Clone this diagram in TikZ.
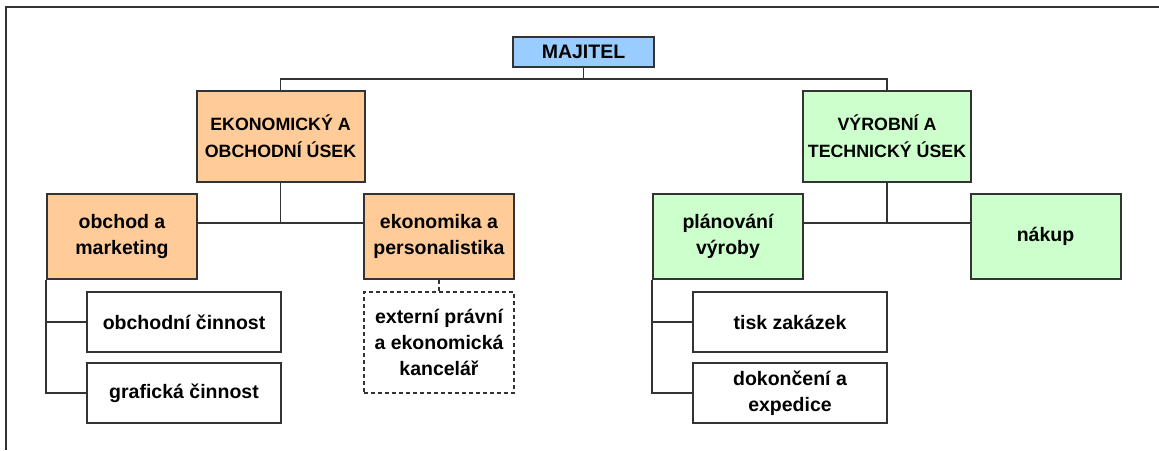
\documentclass[tikz,border=0pt]{standalone}
\usepackage{fontspec}
\setmainfont{Liberation Sans}
\definecolor{bossblue}{HTML}{99CCFF}
\definecolor{ekonorange}{HTML}{FFCC99}
\definecolor{vyrobgreen}{HTML}{CCFFCC}
\definecolor{edgegray}{HTML}{333333}
\begin{document}
\begin{tikzpicture}[x=0.5pt, y=-0.5pt,
  every node/.style={font=\fontsize{9.75pt}{13pt}\selectfont\bfseries, align=center, inner sep=0pt},
  unit/.style={draw=edgegray, line width=1pt},
  bossbox/.style={unit, fill=bossblue, minimum width=70.5pt, minimum height=15pt},
  headbox/.style={unit, font=\fontsize{8.9pt}{13.5pt}\selectfont\bfseries, minimum width=84pt, minimum height=45.5pt},
  deptbox/.style={unit, minimum width=75pt, minimum height=42.5pt},
  taskbox/.style={unit, fill=white, minimum width=97pt, minimum height=30pt},
  extbox/.style={unit, dashed, dash pattern=on 2pt off 1.5pt, minimum width=75pt, minimum height=50.5pt},
  link/.style={draw=edgegray, line width=0.8pt}]
  \useasboundingbox (0,0) rectangle (1159,450);

  % frame
  \draw[edgegray, line width=0.8pt] (1159,7) -- (6,7) -- (6,450);

  % owner and the two divisions
  \node[bossbox] (maj) at (583.5,52) {MAJITEL};
  \node[headbox, fill=ekonorange] (ekon) at (280.5,136.5) {EKONOMICKÝ A\\OBCHODNÍ ÚSEK};
  \node[headbox, fill=vyrobgreen] (vyrob) at (887,136.5) {VÝROBNÍ A\\TECHNICKÝ ÚSEK};

  % departments
  \node[deptbox, fill=ekonorange] (obchod) at (122,236.5) {obchod a\\marketing};
  \node[deptbox, fill=ekonorange] (ekonom) at (439,236.5) {ekonomika a\\personalistika};
  \node[deptbox, fill=vyrobgreen] (plan) at (728,236.5) {plánování\\výroby};
  \node[deptbox, fill=vyrobgreen] (nakup) at (1045.5,236.5) {nákup};

  % tasks
  \node[taskbox] (obchcin) at (184,322) {obchodní činnost};
  \node[taskbox] (grafcin) at (184,393) {grafická činnost};
  \node[taskbox] (tisk) at (790,322) {tisk zakázek};
  \node[taskbox] (dokon) at (790,393) {dokončení a\\expedice};
  \node[extbox] (extern) at (439,342.5) {externí právní\\a ekonomická\\kancelář};

  % junctions
  \coordinate (topjoin) at (583.5,79);
  \coordinate (ekonjoin) at (280.5,223);
  \coordinate (vyrobjoin) at (887,223);

  % connectors
  \draw[link] (maj.south) -- (topjoin);
  \draw[link] (ekon.north) |- (topjoin) -| (vyrob.north);
  \draw[link] (ekon.south) -- (ekonjoin);
  \draw[link] (obchod.east |- ekonjoin) -- (ekonom.west |- ekonjoin);
  \draw[link] (vyrob.south) -- (vyrobjoin);
  \draw[link] (plan.east |- vyrobjoin) -- (nakup.west |- vyrobjoin);
  \draw[link] (obchod.south west) |- (grafcin.west);
  \draw[link] (obchod.south west |- obchcin.west) -- (obchcin.west);
  \draw[link] (plan.south west) |- (dokon.west);
  \draw[link] (plan.south west |- tisk.west) -- (tisk.west);
  \draw[link, dashed, dash pattern=on 2pt off 1.5pt] (ekonom.south) -- (extern.north);
\end{tikzpicture}
\end{document}
